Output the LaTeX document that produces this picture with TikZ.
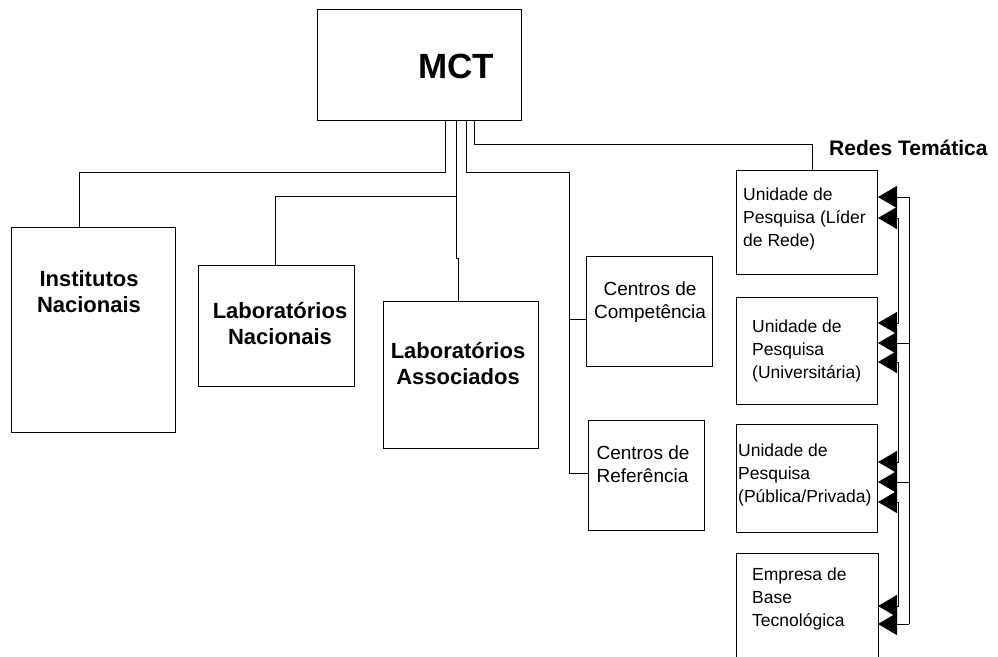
\documentclass[tikz,border=0pt]{standalone}
\usepackage{fontspec}
\setmainfont{Liberation Sans}
\usetikzlibrary{arrows.meta}
\begin{document}
\begin{tikzpicture}[x=1pt,y=-1pt,
  box/.style={draw, line width=1pt, inner sep=0pt, anchor=north west},
  conn/.style={line width=1pt},
  tri/.style={-{Triangle[length=19pt,width=22pt]}},
  tritwo/.style={{Triangle[length=19pt,width=22pt]}-{Triangle[length=19pt,width=22pt]}},
  big/.style={font=\fontsize{22}{26}\selectfont\bfseries, align=center, inner sep=0pt},
  mid/.style={font=\fontsize{19}{23}\selectfont, align=center, inner sep=0pt},
  small/.style={font=\fontsize{17.5}{23}\selectfont, align=left, anchor=west, inner sep=0pt}]
\useasboundingbox (0,0) rectangle (998,656);

% boxes
\node[box, minimum width=204pt, minimum height=111pt] (mct) at (317,9) {};
\node[box, minimum width=164pt, minimum height=205pt] (inst) at (11,227) {};
\node[box, minimum width=156pt, minimum height=121pt] (labn) at (198,265) {};
\node[box, minimum width=155pt, minimum height=147pt] (laba) at (383,301) {};
\node[box, minimum width=126pt, minimum height=110pt] (comp) at (586,256) {};
\node[box, minimum width=116pt, minimum height=110pt] (ref) at (588,420) {};
\node[box, minimum width=141pt, minimum height=104pt] (u1) at (736,170) {};
\node[box, minimum width=141pt, minimum height=107pt] (u2) at (736,297) {};
\node[box, minimum width=141pt, minimum height=108pt] (u3) at (736,424) {};
\node[box, draw=none, minimum width=141pt, minimum height=104pt] (u4) at (736,553) {};
\draw[conn] (u4.south west) |- (u4.north east) -- (u4.south east);

% texts
\node[font=\fontsize{35}{40}\selectfont\bfseries, inner sep=0pt] (tmct) at (456,66) {MCT};
\node[big] (tinst) at (89,292) {Institutos\\Nacionais};
\node[big] (tlabn) at (280,324) {Laboratórios\\Nacionais};
\node[big] (tlaba) at (458,364) {Laboratórios\\Associados};
\node[mid] (tcomp) at (650,302) {Centros de\\Competência};
\node[mid, align=left] (tref) at (643,464) {Centros de\\Referência};
\node[font=\fontsize{21}{24}\selectfont\bfseries, anchor=west, inner sep=0pt] (tredes) at (829,148) {Redes Temática};
\node[small] (tu1) at (743,219) {Unidade de\\Pesquisa (Líder\\de Rede)};
\node[small] (tu2) at (752,351) {Unidade de\\Pesquisa\\(Universitária)};
\node[small] (tu3) at (738,475) {Unidade de\\Pesquisa\\(Pública/Privada)};
\node[small] (tu4) at (752,599) {Empresa de\\Base\\Tecnológica};

% connectors from MCT
\draw[conn] (mct.south -| 445,0) |- (79,172) -- (inst.north -| 79,0);
\draw[conn] (mct.south -| 456,0) |- (275,196) -- (labn.north -| 275,0);
\draw[conn] (mct.south -| 456,0) -- (456,258) -- (458,258) -- (laba.north -| 458,0);
\coordinate (cj) at (569,319);
\draw[conn] (mct.south -| 466,0) |- (569,172) |- (ref.west |- 0,473);
\draw[conn] (cj) -- (comp.west |- cj);
\draw[conn] (mct.south -| 474,0) |- (812,144) -- (u1.north -| 812,0);

% network links
\coordinate (b1) at (909,197);
\coordinate (b2) at (909,343);
\coordinate (b3) at (909,482);
\coordinate (b4) at (909,624);
\draw[conn] (b1) -- (b4);
\draw[conn,tri] (b1) -- (u1.east |- b1);
\draw[conn,tri] (b2) -- (u2.east |- b2);
\draw[conn,tri] (b3) -- (u3.east |- b3);
\draw[conn,tri] (b4) -- (u4.east |- b4);
\draw[conn,tritwo] (u1.east |- 0,218) -| (898,323) -- (u2.east |- 0,323);
\draw[conn,tritwo] (u2.east |- 0,362) -| (898,462) -- (u3.east |- 0,462);
\draw[conn,tritwo] (u3.east |- 0,502) -| (898,606) -- (u4.east |- 0,606);
\end{tikzpicture}
\end{document}
